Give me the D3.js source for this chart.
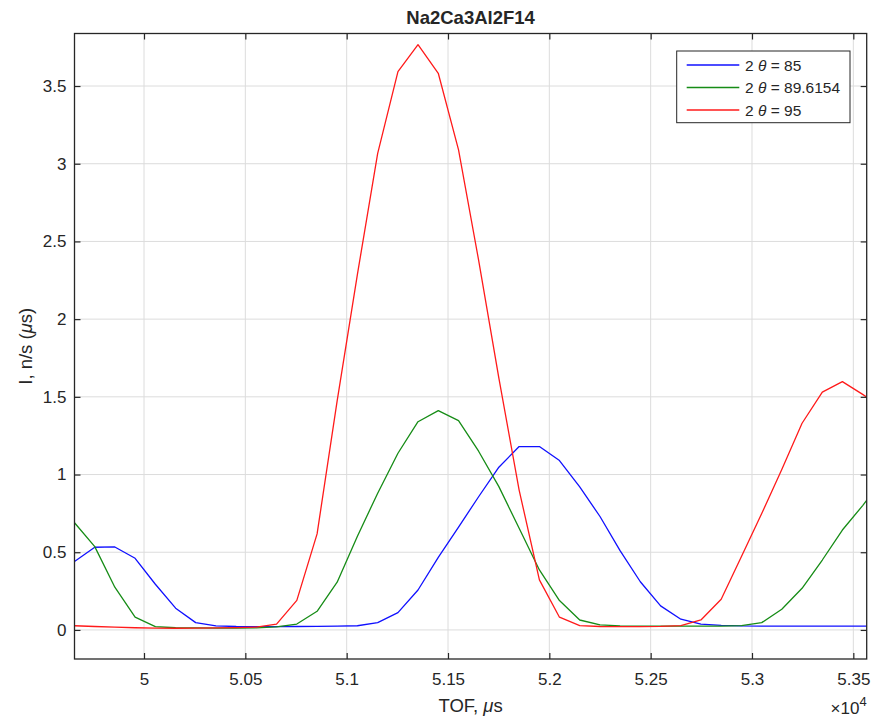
<!DOCTYPE html>
<html>
<head>
<meta charset="utf-8">
<script src="https://cdn.jsdelivr.net/npm/d3@7"></script>
<style>
  html, body { margin: 0; padding: 0; background: #ffffff; }
  svg { display: block; }
  text { font-family: "Liberation Sans", Arial, Helvetica, sans-serif; fill: #262626; }
</style>
</head>
<body>
<svg id="chart" width="880" height="717"></svg>
<script>
// ---------------- DATA ----------------
const chartTitle = "Na2Ca3Al2F14";
const tof = [49657, 49757, 49856, 49956, 50056, 50156, 50255, 50355, 50455, 50554,
             50654, 50754, 50854, 50953, 51053, 51153, 51253, 51352, 51452, 51552,
             51651, 51751, 51851, 51951, 52050, 52150, 52250, 52349, 52449, 52549,
             52649, 52748, 52848, 52948, 53048, 53147, 53247, 53347, 53446, 53546, 53646];
const seriesNames = ["85", "89.6154", "95"];
const blue85 = [0.44, 0.532, 0.534, 0.461, 0.294, 0.14, 0.047, 0.026, 0.022, 0.021,
                0.021, 0.022, 0.023, 0.025, 0.027, 0.047, 0.111, 0.257, 0.467, 0.662,
                0.857, 1.047, 1.18, 1.18, 1.09, 0.92, 0.73, 0.51, 0.31, 0.155,
                0.069, 0.038, 0.03, 0.026, 0.025, 0.025, 0.025, 0.025, 0.025, 0.025, 0.025];
const green89 = [0.69, 0.536, 0.275, 0.082, 0.021, 0.014, 0.013, 0.012, 0.012, 0.013,
                 0.02, 0.038, 0.12, 0.307, 0.603, 0.88, 1.137, 1.34, 1.411, 1.347,
                 1.15, 0.922, 0.654, 0.386, 0.189, 0.064, 0.032, 0.026, 0.025, 0.025,
                 0.025, 0.025, 0.025, 0.028, 0.047, 0.133, 0.268, 0.45, 0.643, 0.80, 0.97];
const red95 = [0.027, 0.022, 0.018, 0.014, 0.012, 0.011, 0.012, 0.013, 0.015, 0.018,
               0.037, 0.19, 0.618, 1.474, 2.288, 3.067, 3.593, 3.766, 3.582, 3.089,
               2.38, 1.62, 0.90, 0.322, 0.082, 0.028, 0.022, 0.021, 0.021, 0.023,
               0.028, 0.064, 0.197, 0.472, 0.749, 1.032, 1.33, 1.53, 1.598, 1.516, 1.43];
const xTicks = [50000, 50500, 51000, 51500, 52000, 52500, 53000, 53500];
const xTickLabels = ["5", "5.05", "5.1", "5.15", "5.2", "5.25", "5.3", "5.35"];
const yTicks = [0, 0.5, 1, 1.5, 2, 2.5, 3, 3.5];
const yTickLabels = ["0", "0.5", "1", "1.5", "2", "2.5", "3", "3.5"];
const xDomain = [49657, 53566];
const yDomain = [-0.187, 3.838];

// ---------------- LAYOUT ----------------
const L = 74.5, R = 866.7, T = 33.5, B = 659;
const svg = d3.select("#chart");
const x = d3.scaleLinear().domain(xDomain).range([L, R]);
const y = d3.scaleLinear().domain(yDomain).range([B, T]);
const axisColor = "#262626";
const series = [
  { name: seriesNames[0], values: blue85, color: "#1010ff" },
  { name: seriesNames[1], values: green89, color: "#168c16" },
  { name: seriesNames[2], values: red95, color: "#ff1a1a" }
];

svg.append("rect").attr("x", 0).attr("y", 0).attr("width", 880).attr("height", 717).attr("fill", "#fff");
svg.append("rect").attr("x", L).attr("y", T).attr("width", R - L).attr("height", B - T).attr("fill", "#fff");

// grid
const grid = svg.append("g").attr("stroke", "#dcdcdc").attr("stroke-width", 1);
grid.selectAll("line.vx").data(xTicks).join("line").attr("class", "vx")
  .attr("x1", d => x(d)).attr("x2", d => x(d)).attr("y1", T).attr("y2", B);
grid.selectAll("line.hy").data(yTicks).join("line").attr("class", "hy")
  .attr("x1", L).attr("x2", R).attr("y1", d => y(d)).attr("y2", d => y(d));

// clip
svg.append("clipPath").attr("id", "plotclip").append("rect")
  .attr("x", L).attr("y", T).attr("width", R - L).attr("height", B - T);

const line = d3.line().x((d, i) => x(tof[i])).y(d => y(d));
const lines = svg.append("g").attr("clip-path", "url(#plotclip)");
series.forEach(s => {
  lines.append("path").datum(s.values)
    .attr("d", line).attr("fill", "none")
    .attr("stroke", s.color).attr("stroke-width", 1.3)
    .attr("stroke-linejoin", "round");
});

// axes
function styleAxis(g) {
  g.select(".domain").remove();
  g.selectAll(".tick line").attr("stroke", axisColor).attr("stroke-width", 1.2);
  g.selectAll(".tick text").attr("fill", axisColor)
    .style("font-family", '"Liberation Sans", Arial, sans-serif').style("font-size", "17px");
}
svg.append("g").attr("transform", `translate(0,${B})`)
  .call(d3.axisBottom(x).tickValues(xTicks).tickFormat((d, i) => xTickLabels[i]).tickSize(-6).tickPadding(14))
  .call(styleAxis);
svg.append("g").attr("transform", `translate(0,${T})`)
  .call(d3.axisTop(x).tickValues(xTicks).tickFormat("").tickSize(-6))
  .call(styleAxis);
svg.append("g").attr("transform", `translate(${L},0)`)
  .call(d3.axisLeft(y).tickValues(yTicks).tickFormat((d, i) => yTickLabels[i]).tickSize(-6).tickPadding(8))
  .call(styleAxis);
svg.append("g").attr("transform", `translate(${R},0)`)
  .call(d3.axisRight(y).tickValues(yTicks).tickFormat("").tickSize(-6))
  .call(styleAxis);

// box
svg.append("rect").attr("x", L).attr("y", T).attr("width", R - L).attr("height", B - T)
  .attr("fill", "none").attr("stroke", axisColor).attr("stroke-width", 1.3);

// title
svg.append("text").attr("x", (L + R) / 2).attr("y", 24).attr("text-anchor", "middle")
  .style("font-size", "18.5px").style("font-weight", "bold").attr("fill", "#000").text(chartTitle);

// x label
const xl = svg.append("text").attr("x", (L + R) / 2).attr("y", 712).attr("text-anchor", "middle")
  .style("font-size", "18.5px");
xl.append("tspan").text("TOF, ");
xl.append("tspan").style("font-style", "italic").text("μ");
xl.append("tspan").text("s");

// exponent
const ex = svg.append("text").attr("x", R).attr("y", 714).attr("text-anchor", "end").style("font-size", "17px");
ex.append("tspan").text("×10");
ex.append("tspan").attr("dy", -8).style("font-size", "13px").text("4");

// y label
const yl = svg.append("text").attr("transform", `translate(32,${(T + B) / 2}) rotate(-90)`)
  .attr("text-anchor", "middle").style("font-size", "18.5px");
yl.append("tspan").text("I, n/s (");
yl.append("tspan").style("font-style", "italic").text("μ");
yl.append("tspan").text("s)");

// legend
const lg = svg.append("g");
lg.append("rect").attr("x", 676.7).attr("y", 51).attr("width", 173.3).attr("height", 71.7)
  .attr("fill", "#fff").attr("stroke", axisColor).attr("stroke-width", 1);
const rowY = [65, 87.5, 110];
series.forEach((s, i) => {
  lg.append("line").attr("x1", 686.7).attr("x2", 739.3).attr("y1", rowY[i]).attr("y2", rowY[i])
    .attr("stroke", s.color).attr("stroke-width", 1.4);
  const t = lg.append("text").attr("x", 745).attr("y", rowY[i]).attr("dy", "0.36em").style("font-size", "15.5px");
  t.append("tspan").text("2 ");
  t.append("tspan").style("font-style", "italic").text("θ");
  t.append("tspan").text(" = " + s.name);
});
</script>
</body>
</html>
